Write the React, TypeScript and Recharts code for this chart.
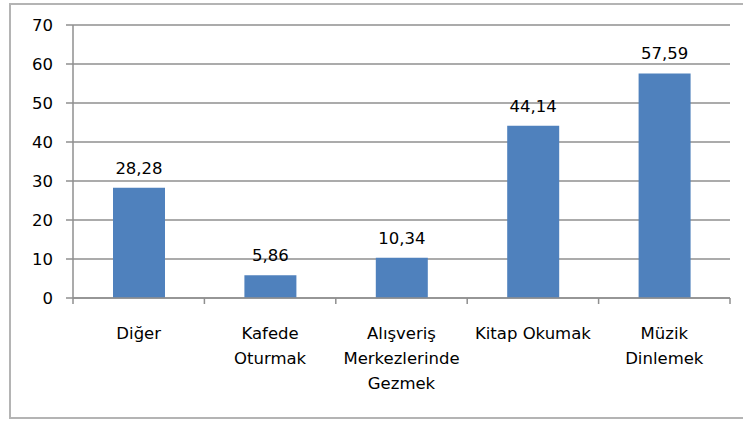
import React from 'react';
import { BarChart, Bar, XAxis, YAxis, CartesianGrid, LabelList } from 'recharts';

const categories = ['Diğer', 'Kafede Oturmak', 'Alışveriş Merkezlerinde Gezmek', 'Kitap Okumak', 'Müzik Dinlemek'];
const categoryLines = [
  ['Diğer'],
  ['Kafede', 'Oturmak'],
  ['Alışveriş', 'Merkezlerinde', 'Gezmek'],
  ['Kitap Okumak'],
  ['Müzik', 'Dinlemek'],
];
const values = [28.28, 5.86, 10.34, 44.14, 57.59];
const yTicks = [0, 10, 20, 30, 40, 50, 60, 70];
const boundaryTicks = [0, 0.5, 1, 1.5, 2, 2.5, 3, 3.5, 4, 4.5, 5];

const data = categories.map((name, i) => ({ name, value: values[i] }));

const FONT = '"DejaVu Sans", Verdana, sans-serif';
const GRID = '#8f8f8f';
const FS = 16.5;

const fmt = (v: number) => v.toFixed(2).replace('.', ',');

const CatTick = (props: any) => {
  const { x, y, payload } = props;
  const v = payload.value as number;
  if (Number.isInteger(v)) {
    return <line x1={x} x2={x} y1={y} y2={y + 6} stroke={GRID} strokeWidth={1.5} />;
  }
  const idx = Math.round(v - 0.5);
  const lines = categoryLines[idx] || [];
  return (
    <text x={x} y={y} textAnchor="middle" fill="#000" fontSize={FS} fontFamily={FONT}>
      {lines.map((l, k) => (
        <tspan key={k} x={x} y={y + 41 + k * 25}>
          {l}
        </tspan>
      ))}
    </text>
  );
};

export default function App() {
  return (
    <div style={{ position: 'absolute', left: 0, top: 0, width: 743, height: 421, overflow: 'hidden', background: '#fff' }}>
      <div
        style={{
          position: 'absolute',
          left: 9,
          top: 3,
          width: 745,
          height: 416,
          border: '2px solid #b4b4b4',
          boxSizing: 'border-box',
        }}
      />
      <div style={{ position: 'absolute', left: 0, top: 0 }}>
        <BarChart
          width={743}
          height={421}
          data={data}
          margin={{ top: 25, right: 13, left: 0, bottom: 13 }}
        >
          <CartesianGrid vertical={false} stroke={GRID} strokeWidth={1.5} />
          <XAxis xAxisId="cat" dataKey="name" hide height={0} />
          <XAxis
            xAxisId="num"
            type="number"
            dataKey={(d: any) => categories.indexOf(d.name) + 0.5}
            domain={[0, 5]}
            allowDataOverflow
            ticks={boundaryTicks}
            interval={0}
            tickLine={false}
            tickSize={0}
            tickMargin={0}
            height={110}
            axisLine={{ stroke: GRID, strokeWidth: 1.5 }}
            tick={<CatTick />}
          />
          <YAxis
            domain={[0, 70]}
            ticks={yTicks}
            interval={0}
            width={73}
            tickSize={7}
            tickMargin={13}
            axisLine={{ stroke: GRID, strokeWidth: 1.5 }}
            tickLine={{ stroke: GRID, strokeWidth: 1.5 }}
            tick={{ fill: '#000', fontSize: FS, fontFamily: FONT }}
          />
          <Bar dataKey="value" xAxisId="cat" fill="#4F81BD" barSize={52} isAnimationActive={false}>
            <LabelList
              dataKey="value"
              position="top"
              offset={14}
              formatter={(v: any) => fmt(Number(v))}
              style={{ fill: '#000', fontSize: FS, fontFamily: FONT }}
            />
          </Bar>
        </BarChart>
      </div>
    </div>
  );
}
